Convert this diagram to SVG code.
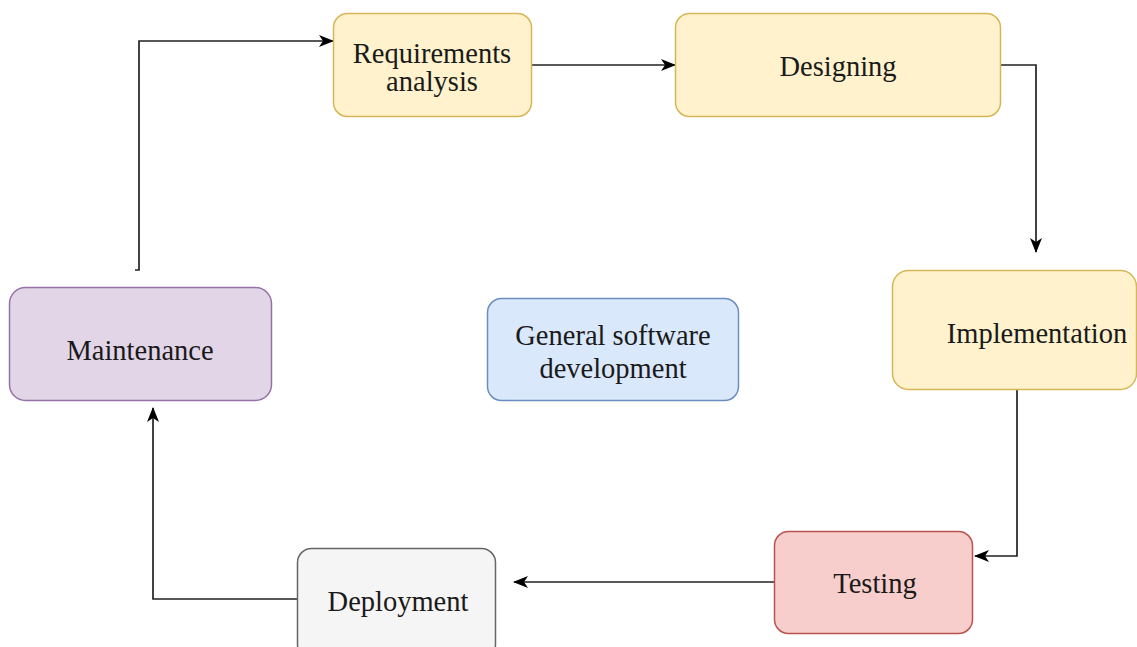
<svg xmlns="http://www.w3.org/2000/svg" width="1137" height="647" viewBox="0 0 1137 647">
  <defs>
    <marker id="arrow" viewBox="0 0 15 12" refX="14" refY="6" markerWidth="15" markerHeight="12" markerUnits="userSpaceOnUse" orient="auto">
      <path d="M0,0 L15,6 L0,12 L4,6 Z" fill="#000"/>
    </marker>
  </defs>
  <style>
    .box { stroke-width: 1.5; }
    .yellow { fill: #fff2cc; stroke: #d6b656; }
    .purple { fill: #e1d5e7; stroke: #9673a6; }
    .blue { fill: #dae8fc; stroke: #6c8ebf; }
    .red { fill: #f8cecc; stroke: #b85450; }
    .gray { fill: #f5f5f5; stroke: #666666; }
    .label { font-family: "Liberation Serif", "Times New Roman", serif; font-size: 28.5px; fill: #1a1a1a; text-anchor: middle; }
    .edge { fill: none; stroke: #222; stroke-width: 1.7; }
  </style>
  <rect width="1137" height="647" fill="#ffffff"/>

  <g id="connectors">
    <path class="edge" d="M135,270 L139,270 L139,41 L333,41" marker-end="url(#arrow)"/>
    <path class="edge" d="M532,65 L675,65" marker-end="url(#arrow)"/>
    <path class="edge" d="M1001,65 L1036,65 L1036,252" marker-end="url(#arrow)"/>
    <path class="edge" d="M1017,390 L1017,556 L975,556" marker-end="url(#arrow)"/>
    <path class="edge" d="M774,582 L514,582" marker-end="url(#arrow)"/>
    <path class="edge" d="M297,599 L153,599 L153,408" marker-end="url(#arrow)"/>
  </g>

  <g id="requirements">
    <rect class="box yellow" x="333.5" y="13.5" width="198" height="103" rx="14"/>
    <text class="label" x="432" y="63">Requirements</text>
    <text class="label" x="432" y="91">analysis</text>
  </g>

  <g id="designing">
    <rect class="box yellow" x="675.5" y="13.5" width="325" height="103" rx="14"/>
    <text class="label" x="838" y="76">Designing</text>
  </g>

  <g id="implementation">
    <rect class="box yellow" x="892.5" y="270.5" width="244" height="119" rx="16"/>
    <text class="label" x="1037" y="343">Implementation</text>
  </g>

  <g id="testing">
    <rect class="box red" x="774.5" y="531.5" width="198" height="102" rx="14"/>
    <text class="label" x="875" y="593">Testing</text>
  </g>

  <g id="deployment">
    <rect class="box gray" x="297.5" y="548.5" width="198" height="110" rx="14"/>
    <text class="label" x="398" y="611">Deployment</text>
  </g>

  <g id="maintenance">
    <rect class="box purple" x="9.5" y="287.5" width="262" height="113" rx="16"/>
    <text class="label" x="140" y="360">Maintenance</text>
  </g>

  <g id="general">
    <rect class="box blue" x="487.5" y="298.5" width="251" height="102" rx="14"/>
    <text class="label" x="613" y="345">General software</text>
    <text class="label" x="613" y="378">development</text>
  </g>
</svg>
